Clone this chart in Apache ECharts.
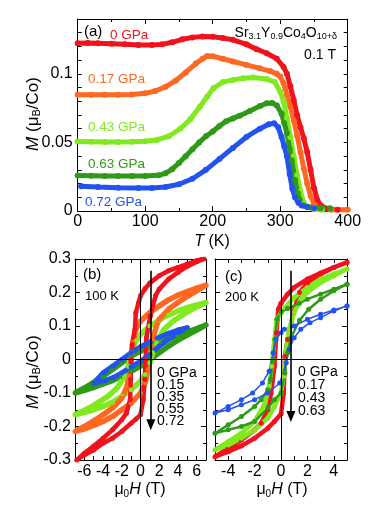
<!DOCTYPE html>
<html>
<head>
<meta charset="utf-8">
<title>Sr3.1Y0.9Co4O10+δ magnetization</title>
<script src="https://cdn.jsdelivr.net/npm/echarts@6.0.0/dist/echarts.min.js"></script>
<style>
  html, body { margin: 0; padding: 0; background: #fff; }
  #chart { width: 381px; height: 515px; }
</style>
</head>
<body>
<div id="chart"></div>
<script>
// ---- (a) M(T) at 0.1 T, points are [T (K), M (μB/Co)] ----
const mtLabels = ['0 GPa', '0.17 GPa', '0.43 GPa', '0.63 GPa', '0.72 GPa'];
const mt000 = [[0,0.1224],[15,0.1225],[30,0.1223],[50,0.122],[70,0.1215],[90,0.121],[110,0.121],[125,0.1215],[140,0.123],[155,0.1252],[170,0.1266],[185,0.1272],[200,0.127],[215,0.1262],[230,0.1248],[250,0.1215],[265,0.118],[280,0.115],[295,0.111],[305,0.105],[310,0.1],[315,0.091],[320,0.081],[325,0.07],[330,0.061],[335,0.053],[340,0.043],[345,0.03],[350,0.017],[355,0.008],[360,0.004],[370,0.0015],[385,0.001]];
const mt017 = [[0,0.0848],[20,0.0848],[40,0.0847],[60,0.0847],[80,0.085],[100,0.0858],[115,0.0875],[130,0.0905],[145,0.095],[160,0.101],[175,0.1075],[185,0.111],[192,0.113],[200,0.1128],[215,0.111],[230,0.109],[250,0.1065],[270,0.104],[285,0.102],[295,0.1],[300,0.098],[305,0.093],[310,0.085],[315,0.076],[320,0.066],[325,0.055],[330,0.043],[335,0.031],[340,0.02],[345,0.011],[350,0.005],[360,0.002],[375,0.001],[400,0.001]];
const mt043 = [[0,0.0506],[20,0.0505],[40,0.0503],[60,0.0503],[80,0.0505],[100,0.0508],[117,0.0518],[135,0.0545],[152,0.06],[167,0.067],[181,0.076],[192,0.0835],[201,0.0895],[215,0.094],[230,0.0956],[245,0.0968],[260,0.0973],[280,0.0962],[292,0.094],[300,0.087],[305,0.08],[310,0.068],[315,0.054],[320,0.04],[325,0.026],[330,0.014],[335,0.006],[340,0.003],[350,0.0012],[362,0.001]];
const mt063 = [[0,0.0258],[20,0.0257],[40,0.0255],[60,0.0255],[80,0.0255],[100,0.0256],[120,0.026],[130,0.0275],[140,0.0305],[150,0.035],[160,0.04],[170,0.045],[180,0.05],[190,0.0545],[200,0.058],[210,0.062],[220,0.0655],[230,0.0675],[240,0.0695],[255,0.073],[270,0.0765],[280,0.0786],[288,0.0788],[295,0.077],[302,0.071],[306,0.064],[310,0.0567],[314,0.045],[317,0.037],[322,0.0226],[326,0.013],[329,0.008],[335,0.004],[344,0.0027],[360,0.002],[374,0.002]];
const mt072 = [[5,0.018],[30,0.0175],[60,0.017],[90,0.0168],[110,0.0168],[130,0.0175],[150,0.0195],[170,0.0235],[190,0.03],[210,0.038],[230,0.046],[250,0.054],[270,0.06],[283,0.0632],[291,0.064],[297,0.061],[302,0.054],[306,0.047],[310,0.04],[314,0.027],[318,0.016],[322,0.01],[327,0.006],[332,0.004],[340,0.003],[350,0.002]];

// ---- (b) M(H) loops at 100 K, [μ0H (T), M (μB/Co)], field down then up ----
const loopBLabels = ['0 GPa', '0.15', '0.35', '0.55', '0.72'];
const hb000 = [[7,0.303],[6,0.295],[5,0.285],[4,0.275],[3,0.265],[2,0.25],[1,0.228],[0.5,0.212],[0,0.19],[-0.2,0.17],[-0.5,0.14],[-0.6,0.09],[-0.9,0.045],[-1,0],[-1.05,-0.06],[-1.1,-0.12],[-1.5,-0.16],[-2,-0.18],[-3,-0.21],[-4,-0.235],[-5,-0.258],[-6,-0.28],[-6.8,-0.3],
  [-6,-0.285],[-5,-0.27],[-4,-0.25],[-3,-0.235],[-2,-0.215],[-1,-0.19],[-0.5,-0.178],[0,-0.165],[0.3,-0.12],[0.45,-0.06],[0.55,0],[0.63,0.065],[1.05,0.13],[1.6,0.19],[2,0.21],[3,0.24],[4,0.26],[5,0.278],[6,0.292],[7,0.302]];
const hb015 = [[7,0.222],[6,0.213],[5,0.203],[4,0.192],[3,0.178],[2,0.16],[1,0.14],[0,0.115],[-0.5,0.09],[-0.8,0.05],[-1,0],[-1.2,-0.05],[-1.5,-0.085],[-2,-0.115],[-3,-0.145],[-4,-0.165],[-5,-0.183],[-6,-0.2],[-7,-0.215],
  [-6,-0.207],[-5,-0.197],[-4,-0.185],[-3,-0.17],[-2,-0.15],[-1,-0.13],[0,-0.1],[0.5,-0.07],[0.8,-0.03],[1,0.02],[1.3,0.06],[1.7,0.1],[2,0.12],[3,0.15],[4,0.17],[5,0.188],[6,0.205],[7,0.222]];
const hb035 = [[7,0.17],[6,0.163],[5,0.155],[4,0.145],[3,0.133],[2,0.118],[1,0.1],[0,0.075],[-0.5,0.055],[-1,0.02],[-1.3,-0.02],[-1.7,-0.05],[-2.5,-0.085],[-3.5,-0.11],[-4.5,-0.128],[-5.5,-0.145],[-7,-0.165],
  [-6,-0.158],[-5,-0.15],[-4,-0.14],[-3,-0.128],[-2,-0.11],[-1,-0.09],[0,-0.065],[0.5,-0.045],[1,-0.01],[1.3,0.02],[1.7,0.05],[2.5,0.09],[3.5,0.115],[4.5,0.133],[5.5,0.15],[7,0.17]];
const hb055 = [[7,0.103],[6,0.092],[5,0.082],[4,0.072],[3,0.062],[2,0.05],[1,0.038],[0,0.025],[-1,0.01],[-2,-0.01],[-3,-0.03],[-4,-0.05],[-5,-0.068],[-6,-0.085],[-7,-0.1],
  [-6,-0.092],[-5,-0.083],[-4,-0.073],[-3,-0.063],[-2,-0.05],[-1,-0.035],[0,-0.02],[1,0],[2,0.02],[3,0.04],[4,0.058],[5,0.073],[6,0.088],[7,0.103]];
const hb072 = [[5,0.095],[4,0.088],[3,0.078],[2,0.066],[1,0.052],[0,0.038],[-1,0.02],[-2,0],[-3,-0.02],[-4,-0.04],[-5,-0.07],
  [-4,-0.065],[-3,-0.055],[-2,-0.04],[-1,-0.022],[0,-0.005],[1,0.015],[2,0.04],[3,0.06],[4,0.08],[5,0.095]];

// ---- (c) M(H) loops at 200 K ----
const loopCLabels = ['0 GPa', '0.17', '0.43', '0.63'];
const hc000 = [[5,0.29],[4,0.275],[3,0.258],[2,0.24],[1,0.215],[0.5,0.195],[0,0.168],[-0.2,0.15],[-0.35,0.08],[-0.5,-0.02],[-0.75,-0.1],[-1,-0.15],[-1.5,-0.19],[-2,-0.21],[-3,-0.24],[-4,-0.265],[-5,-0.29],
  [-4,-0.275],[-3,-0.258],[-2,-0.235],[-1,-0.205],[-0.5,-0.185],[0,-0.163],[0.2,-0.1],[0.3,0.01],[0.5,0.06],[0.95,0.14],[1.4,0.2],[2,0.228],[3,0.255],[4,0.275],[5,0.29]];
const hc017 = [[5,0.27],[4,0.255],[3,0.24],[2,0.215],[1,0.185],[0.3,0.155],[0,0.138],[-0.33,0.12],[-0.5,0.06],[-0.7,-0.02],[-0.9,-0.08],[-1.2,-0.13],[-2,-0.185],[-3,-0.22],[-4,-0.245],[-5,-0.27],
  [-4,-0.255],[-3,-0.235],[-2,-0.21],[-1,-0.175],[-0.5,-0.14],[0,-0.1],[0.2,-0.05],[0.4,0.03],[0.6,0.09],[1,0.14],[1.5,0.18],[2,0.2],[3,0.23],[4,0.25],[5,0.27]];
const hc043 = [[5,0.225],[4,0.21],[3,0.195],[2,0.18],[1.4,0.168],[0.5,0.152],[0,0.142],[-0.3,0.12],[-0.45,0.06],[-0.6,0],[-0.8,-0.06],[-1,-0.09],[-1.5,-0.12],[-2,-0.14],[-3,-0.17],[-4,-0.195],[-5,-0.22],
  [-4,-0.21],[-3,-0.2],[-2,-0.185],[-1,-0.145],[-0.5,-0.12],[0,-0.1],[0.3,-0.04],[0.5,0.02],[0.75,0.065],[1.4,0.117],[2.1,0.15],[3,0.18],[4,0.205],[5,0.225]];
const hc063 = [[5,0.16],[4,0.148],[3,0.135],[2,0.12],[1,0.1],[0.25,0.09],[0,0.08],[-0.38,0.06],[-0.6,0.02],[-0.9,-0.035],[-1.4,-0.07],[-2.15,-0.1],[-3,-0.12],[-4,-0.14],[-5,-0.16],
  [-4,-0.15],[-3,-0.135],[-2,-0.12],[-1,-0.1],[-0.1,-0.07],[0.4,-0.01],[0.6,0.03],[1,0.065],[1.5,0.09],[2.2,0.11],[3,0.125],[4,0.145],[5,0.16]];

// pressure arrows: [H, M top, M bottom]
const arrowB = [1.1, 0.265, -0.195];
const arrowC = [0.75, 0.265, -0.17];

const RED = '#f2121c', ORANGE = '#ff6822', LGREEN = '#80ea1e', DGREEN = '#2f9a18', BLUE = '#2252ef';
const FONT = '"Liberation Sans", Arial, Helvetica, sans-serif';

const grids = [
  { left: 77.7, top: 19, width: 270, height: 192 },
  { left: 75, top: 259, width: 131, height: 201 },
  { left: 215, top: 259, width: 132, height: 201 }
].map(g => Object.assign({ containLabel: false, outerBoundsMode: 'none' }, g));

const evenOnly = lim => v => { const k = Math.round(v); return (k % 2 === 0 && Math.abs(k) < lim) ? String(k) : ''; };
const scaleAX = { min: 0, max: 400, interval: 100, minor: 2, margin: 3, fmt: v => String(v) };
const scaleAY = { min: 0, max: 0.14, interval: 0.01, tick: 4, margin: 5,
  fmt: v => { const k = Math.round(v * 100); return k === 0 ? '0' : (k % 5 === 0 && k <= 10 ? String(k / 100) : ''); } };
const scaleBX = { min: -7, max: 7, interval: 1, tick: 4, margin: 4, fmt: evenOnly(7) };
const scaleCX = { min: -5, max: 5, interval: 1, tick: 4, margin: 4, fmt: evenOnly(5) };
const scaleMY = { min: -0.3, max: 0.3, interval: 0.1, minor: 2, margin: 4,
  fmt: v => { const k = Math.round(v * 10); return k === 0 ? '0' : (k / 10).toFixed(1); } };

function axis(gridIndex, position, s, showLabel) {
  const tickStyle = { color: '#000', width: 1 };
  return {
    type: 'value', gridIndex, position, min: s.min, max: s.max, interval: s.interval,
    axisLine: { show: true, onZero: false, lineStyle: { color: '#000', width: 1 } },
    axisTick: { show: true, inside: true, length: s.tick || 5, lineStyle: tickStyle },
    minorTick: { show: !!s.minor, splitNumber: s.minor || 5, length: 3, lineStyle: tickStyle },
    splitLine: { show: false },
    axisLabel: { show: showLabel, color: '#000', fontSize: 16, fontFamily: FONT, margin: s.margin,
      formatter: s.fmt, showMinLabel: true, showMaxLabel: true },
    silent: true
  };
}

const xAxis = [
  axis(0, 'bottom', scaleAX, true), axis(0, 'top', scaleAX, false),
  axis(1, 'bottom', scaleBX, true), axis(1, 'top', scaleBX, false),
  axis(2, 'bottom', scaleCX, true), axis(2, 'top', scaleCX, false)
];
const yAxis = [
  axis(0, 'left', scaleAY, true), axis(0, 'right', scaleAY, false),
  axis(1, 'left', scaleMY, true), axis(1, 'right', scaleMY, false),
  axis(2, 'left', scaleMY, false), axis(2, 'right', scaleMY, false)
];

function curve(data, color, axisIdx, width, size, extra) {
  return Object.assign({
    type: 'line', xAxisIndex: axisIdx, yAxisIndex: axisIdx, data, color,
    showSymbol: true, symbol: 'circle', symbolSize: size,
    lineStyle: { color, width }, itemStyle: { color },
    animation: false, silent: true, clip: true
  }, extra || {});
}

function guides(arrow) {
  return {
    silent: true, animation: false, symbol: ['none', 'none'],
    label: { show: false },
    lineStyle: { color: '#000', width: 1, type: 'solid' },
    emphasis: { disabled: true },
    data: [
      { yAxis: 0 }, { xAxis: 0 },
      [ { coord: [arrow[0], arrow[1]], symbol: 'none', lineStyle: { color: '#000', width: 1.6, type: 'solid' } },
        { coord: [arrow[0], arrow[2]], symbol: 'triangle', symbolSize: [9, 11], lineStyle: { color: '#000', width: 1.6, type: 'solid' } } ]
    ]
  };
}

const series = [
  curve(mt000, RED, 0, 5, 6), curve(mt017, ORANGE, 0, 5, 6), curve(mt043, LGREEN, 0, 5, 6),
  curve(mt063, DGREEN, 0, 5, 6), curve(mt072, BLUE, 0, 5, 6),
  curve(hb055, DGREEN, 2, 5.5, 5), curve(hb035, LGREEN, 2, 5.5, 5), curve(hb015, ORANGE, 2, 5.5, 5),
  curve(hb000, RED, 2, 4.5, 5), curve(hb072, BLUE, 2, 5, 5, { markLine: guides(arrowB) }),
  curve(hc000, RED, 4, 4.5, 5), curve(hc017, LGREEN, 4, 4.5, 5), curve(hc043, DGREEN, 4, 2.5, 5),
  curve(hc063, BLUE, 4, 1.5, 5, { markLine: guides(arrowC) })
];

// ---- text ----
const rich = size => ({
  n: { fontSize: size, fontFamily: FONT, lineHeight: size + 2, fill: '#000' },
  i: { fontSize: size, fontFamily: FONT, fontStyle: 'italic', lineHeight: size + 2, fill: '#000' },
  s: { fontSize: Math.round(size * 0.62), fontFamily: FONT, lineHeight: Math.round(size * 0.62) + 2, verticalAlign: 'bottom', fill: '#000' }
});
function txt(x, y, text, o) {
  o = o || {};
  return {
    type: 'text', x, y, rotation: o.rotation || 0, silent: true, z: 50,
    style: { text, fill: o.color || '#000', fontSize: o.size || 14, fontFamily: FONT,
      align: o.align || 'left', verticalAlign: 'middle', rich: o.rich }
  };
}
const mName = '{i|M}{n| (μ}{s|B}{n|/Co)}';
const hName = '{n|μ}{s|0}{i|H}{n| (T)}';
const mtColors = [RED, ORANGE, LGREEN, DGREEN, BLUE];
const mtLabelPos = [[110, 35], [88, 79], [88, 127], [88, 164], [85, 202]];

const graphic = [
  txt(84, 32, '(a)', { size: 15 }),
  txt(337, 33, '{n|Sr}{s|3.1}{n|Y}{s|0.9}{n|Co}{s|4}{n|O}{s|10+δ}', { align: 'right', rich: rich(14) }),
  txt(336, 55, '0.1 T', { align: 'right', size: 14 }),
  txt(33, 114, mName, { align: 'center', rotation: Math.PI / 2, rich: rich(17) }),
  txt(212, 242, '{i|T}{n| (K)}', { align: 'center', rich: rich(16) }),
  txt(83, 275, '(b)', { size: 15 }),
  txt(85, 296, '100 K', { size: 13 }),
  txt(225, 277, '(c)', { size: 15 }),
  txt(225, 297, '200 K', { size: 13 }),
  txt(33, 372, mName, { align: 'center', rotation: Math.PI / 2, rich: rich(17) }),
  txt(140, 490, hName, { align: 'center', rich: rich(16) }),
  txt(282, 490, hName, { align: 'center', rich: rich(16) })
];
mtLabels.forEach((t, i) => graphic.push(txt(mtLabelPos[i][0], mtLabelPos[i][1], t, { color: mtColors[i], size: 13.5 })));
loopBLabels.forEach((t, i) => graphic.push(txt(157, 373 + i * 12, t, { size: 14 })));
loopCLabels.forEach((t, i) => graphic.push(txt(298, 372 + i * 13, t, { size: 14 })));

const chart = echarts.init(document.getElementById('chart'), null, { renderer: 'canvas' });
chart.setOption({
  animation: false,
  backgroundColor: '#fff',
  grid: grids,
  xAxis, yAxis, series, graphic
});
</script>
</body>
</html>
